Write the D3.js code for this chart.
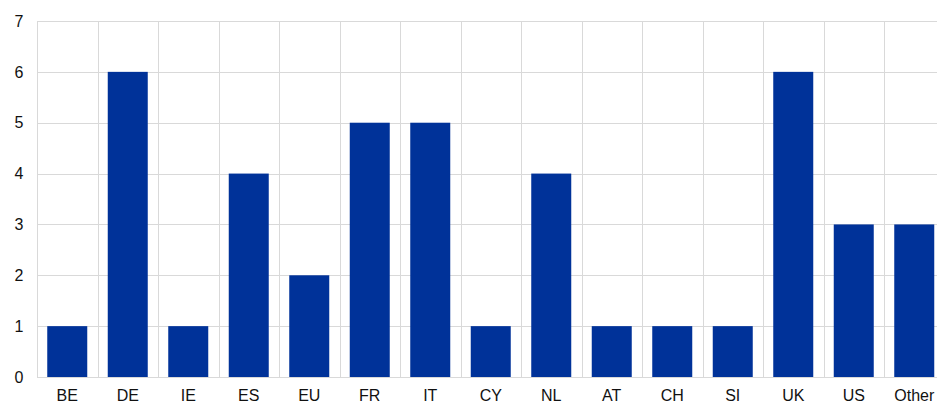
<!DOCTYPE html>
<html><head><meta charset="utf-8">
<script src="https://cdn.jsdelivr.net/npm/d3@7"></script>
<style>body{margin:0;background:#fff}svg{display:block}text{font-family:"Liberation Sans",Arial,sans-serif;font-size:16px;fill:#111}</style>
</head><body><svg id="c" width="937" height="403"></svg>
<script>
const categories = ["BE","DE","IE","ES","EU","FR","IT","CY","NL","AT","CH","SI","UK","US","Other"];
const values = [1,6,1,4,2,5,5,1,4,1,1,1,6,3,3];
const yTicks = [0,1,2,3,4,5,6,7];

(function(){
const svg = d3.select("#c");
const mLeft = 37, bandW = 60.5, mTop = 21, mBottom = 377;
const x = d3.scaleBand().domain(categories).range([mLeft, mLeft + bandW*categories.length]).paddingInner(0).paddingOuter(0);
const y = d3.scaleLinear().domain([0,7]).range([mBottom, mTop]);
const grid = "#d9d9d9";

svg.append("g").selectAll("line").data(yTicks).join("line")
  .attr("x1", mLeft).attr("x2", 937).attr("y1", d=>Math.round(y(d))+0.5).attr("y2", d=>Math.round(y(d))+0.5)
  .attr("stroke", grid).attr("stroke-width", 1);
svg.append("g").selectAll("line").data(categories).join("line")
  .attr("x1", d=>Math.round(x(d))+0.5).attr("x2", d=>Math.round(x(d))+0.5)
  .attr("y1", mTop).attr("y2", mBottom)
  .attr("stroke", grid).attr("stroke-width", 1);

const barW = 40;
svg.append("g").selectAll("rect").data(categories).join("rect")
  .attr("x", d=>x(d) + (x.bandwidth()-barW)/2)
  .attr("width", barW)
  .attr("y", (d,i)=>y(values[i]))
  .attr("height", (d,i)=>y(0)-y(values[i]))
  .attr("fill", "#003299");

svg.append("g").selectAll("text").data(yTicks).join("text")
  .attr("x", 23.5).attr("y", d=>y(d)+5.7).attr("text-anchor","end").text(d=>d);
svg.append("g").selectAll("text").data(categories).join("text")
  .attr("x", d=>x(d)+x.bandwidth()/2).attr("y", 401).attr("text-anchor","middle").text(d=>d);
})();
</script></body></html>
